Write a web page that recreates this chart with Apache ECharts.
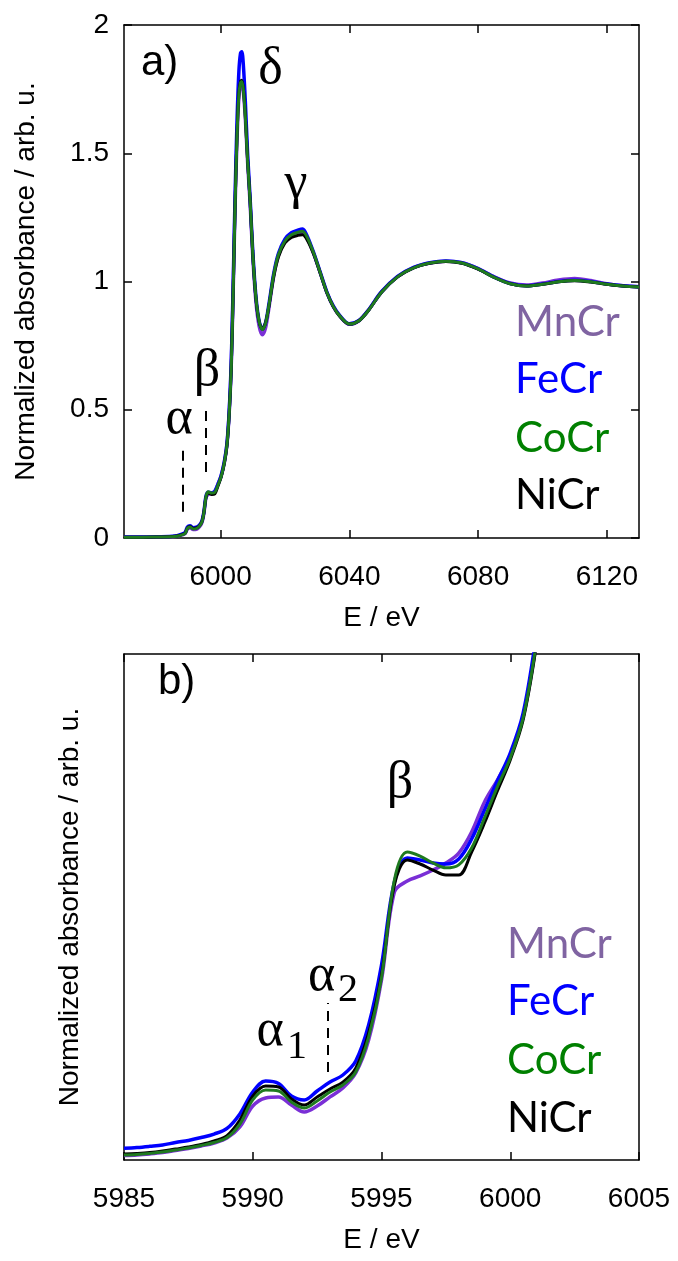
<!DOCTYPE html>
<html>
<head>
<meta charset="utf-8">
<script src="https://cdn.jsdelivr.net/npm/echarts@6/dist/echarts.min.js"></script>
<style>
  html, body { margin: 0; padding: 0; background: #fff; }
  #chart { width: 678px; height: 1261px; }
</style>
</head>
<body>
<div id="chart"></div>
<script>
// ---- Panel a: full Cr K-edge XANES (E / eV vs normalized absorbance) ----
const energyA = [5970, 5975, 5980, 5985, 5986.5, 5988, 5989, 5989.7, 5990.5, 5991.5,
  5992.5, 5993.4, 5994.2, 5994.8, 5995.5, 5996.2, 5997.2, 5998.2, 5999.2, 6000.2,
  6001.2, 6002, 6002.7, 6003.3, 6003.9, 6004.5, 6005.1, 6005.7, 6006.2, 6006.6,
  6007.1, 6007.7, 6008.4, 6009.2, 6010, 6011, 6012, 6013, 6014, 6015,
  6016.5, 6018, 6020, 6022, 6024, 6025.5, 6027, 6029, 6031, 6033,
  6035, 6037, 6040, 6043, 6046, 6050, 6055, 6060, 6065, 6070,
  6075, 6080, 6085, 6090, 6095, 6100, 6105, 6110, 6115, 6120, 6125, 6130];

const mnCrA = [0.003, 0.003, 0.004, 0.005, 0.007, 0.012, 0.017, 0.035, 0.040, 0.033,
  0.034, 0.043, 0.060, 0.094, 0.158, 0.170, 0.172, 0.180, 0.210, 0.242,
  0.296, 0.366, 0.492, 0.662, 0.950, 1.285, 1.550, 1.720, 1.765, 1.770,
  1.738, 1.635, 1.465, 1.300, 1.100, 0.920, 0.825, 0.792, 0.820, 0.895,
  1.020, 1.102, 1.158, 1.182, 1.190, 1.192, 1.166, 1.106, 1.032, 0.958,
  0.903, 0.866, 0.833, 0.847, 0.889, 0.959, 1.019, 1.054, 1.072, 1.079,
  1.073, 1.050, 1.018, 0.994, 0.986, 0.994, 1.006, 1.012, 1.004, 0.991, 0.983, 0.980];

const feCrA = [0.004, 0.004, 0.005, 0.007, 0.009, 0.015, 0.022, 0.043, 0.048, 0.040,
  0.042, 0.050, 0.066, 0.100, 0.165, 0.178, 0.176, 0.182, 0.210, 0.245,
  0.300, 0.370, 0.500, 0.680, 0.980, 1.330, 1.620, 1.820, 1.890, 1.896,
  1.840, 1.700, 1.500, 1.320, 1.120, 0.940, 0.845, 0.815, 0.840, 0.910,
  1.030, 1.110, 1.165, 1.190, 1.200, 1.205, 1.175, 1.110, 1.035, 0.960,
  0.905, 0.868, 0.835, 0.848, 0.890, 0.960, 1.020, 1.055, 1.073, 1.080,
  1.073, 1.050, 1.017, 0.992, 0.983, 0.990, 1.000, 1.005, 1.000, 0.990, 0.983, 0.980];

const coCrA = [0.003, 0.003, 0.004, 0.005, 0.007, 0.012, 0.018, 0.038, 0.043, 0.035,
  0.037, 0.046, 0.062, 0.096, 0.163, 0.180, 0.175, 0.178, 0.206, 0.240,
  0.295, 0.365, 0.490, 0.660, 0.950, 1.290, 1.560, 1.730, 1.775, 1.780,
  1.745, 1.640, 1.470, 1.310, 1.110, 0.935, 0.843, 0.812, 0.838, 0.905,
  1.025, 1.105, 1.158, 1.182, 1.192, 1.196, 1.170, 1.108, 1.033, 0.958,
  0.903, 0.866, 0.834, 0.847, 0.888, 0.958, 1.018, 1.053, 1.072, 1.079,
  1.072, 1.049, 1.016, 0.991, 0.982, 0.989, 0.999, 1.004, 0.999, 0.989, 0.982, 0.979];

const niCrA = [0.003, 0.003, 0.004, 0.006, 0.008, 0.013, 0.019, 0.039, 0.045, 0.037,
  0.039, 0.047, 0.063, 0.097, 0.160, 0.176, 0.170, 0.172, 0.203, 0.238,
  0.293, 0.362, 0.488, 0.658, 0.948, 1.292, 1.565, 1.735, 1.780, 1.785,
  1.750, 1.645, 1.472, 1.310, 1.108, 0.932, 0.842, 0.815, 0.840, 0.902,
  1.018, 1.096, 1.150, 1.172, 1.180, 1.182, 1.160, 1.104, 1.031, 0.957,
  0.902, 0.865, 0.834, 0.847, 0.888, 0.958, 1.018, 1.053, 1.071, 1.078,
  1.071, 1.048, 1.016, 0.991, 0.982, 0.989, 0.999, 1.003, 0.998, 0.989, 0.982, 0.979];

// ---- Panel b: pre-edge region, 5985-6005 eV ----
const energyB = [5985, 5985.5, 5986, 5986.5, 5987, 5987.5, 5988, 5988.5, 5989, 5989.5,
  5990, 5990.5, 5991, 5991.5, 5992, 5992.5, 5993, 5993.5, 5994, 5994.5,
  5995, 5995.5, 5996, 5996.5, 5997, 5997.5, 5998, 5998.5, 5999, 5999.5,
  6000, 6000.5, 6001];

const mnCrB = [0.0027, 0.0030, 0.0036, 0.0044, 0.0056, 0.0068, 0.0083, 0.0101, 0.0130, 0.0196,
  0.0320, 0.0368, 0.0374, 0.0326, 0.0285, 0.0320, 0.0374, 0.0427, 0.0516, 0.0711,
  0.1067, 0.1589, 0.1654, 0.1684, 0.1719, 0.1761, 0.1820, 0.1945, 0.2123, 0.2253,
  0.2395, 0.2627, 0.3053];

const feCrB = [0.0069, 0.0074, 0.0081, 0.0089, 0.0104, 0.0116, 0.0133, 0.0154, 0.0187, 0.0273,
  0.0403, 0.0468, 0.0454, 0.0379, 0.0356, 0.0409, 0.0462, 0.0504, 0.0587, 0.0800,
  0.1156, 0.1648, 0.1791, 0.1779, 0.1761, 0.1755, 0.1785, 0.1903, 0.2075, 0.2247,
  0.2413, 0.2650, 0.3101];

const coCrB = [0.0030, 0.0033, 0.0039, 0.0047, 0.0059, 0.0071, 0.0086, 0.0104, 0.0133, 0.0213,
  0.0356, 0.0415, 0.0409, 0.0344, 0.0308, 0.0350, 0.0403, 0.0445, 0.0522, 0.0729,
  0.1079, 0.1660, 0.1826, 0.1802, 0.1761, 0.1732, 0.1750, 0.1850, 0.2028, 0.2212,
  0.2383, 0.2621, 0.3053];

const niCrB = [0.0036, 0.0039, 0.0044, 0.0053, 0.0065, 0.0077, 0.0092, 0.0113, 0.0145, 0.0237,
  0.0379, 0.0439, 0.0433, 0.0362, 0.0326, 0.0374, 0.0421, 0.0462, 0.0545, 0.0753,
  0.1097, 0.1630, 0.1779, 0.1755, 0.1719, 0.1690, 0.1690, 0.1826, 0.1998, 0.2188,
  0.2372, 0.2609, 0.3036];

// tick labels
const ticksA = [6000, 6040, 6080, 6120];
const ticksB = [5985, 5990, 5995, 6000, 6005];
const yTicksA = [0, 0.5, 1, 1.5, 2];

// feature markers (energy, lower, upper) for the dashed guide lines
const guidesA = [[5988.2, 0.1025, 0.3626], [5995.47, 0.257, 0.518]];
const guidesB = [[5992.9, 0.0522, 0.0931]];

const names = ['MnCr', 'FeCr', 'CoCr', 'NiCr'];
const lineColors = { MnCr: '#7a2fd6', FeCr: '#0000ff', CoCr: '#1f7a1f', NiCr: '#000000' };
const textColors = { MnCr: '#8064a2', FeCr: '#0000ff', CoCr: '#008000', NiCr: '#000000' };

const SANS = '"Liberation Sans", Arial, Helvetica, sans-serif';
const SERIF = '"Liberation Serif", "Times New Roman", serif';
const LEG = 'Lato, "Open Sans", sans-serif';
const FS = 28;

function zip(xs, ys) { return xs.map((x, i) => [x, ys[i]]); }
const plain = v => String(v);

const chart = echarts.init(document.getElementById('chart'), null, { renderer: 'canvas' });

const axisLineStyle = { color: '#000', width: 1.5 };

function xAxisPair(grid, min, max, ticks, withInterval) {
  const base = {
    gridIndex: grid, type: 'value', min: min, max: max,
    axisLine: { show: true, onZero: false, lineStyle: axisLineStyle },
    splitLine: { show: false }
  };
  const tickCfg = withInterval
    ? { show: true, inside: true, length: 8, lineStyle: axisLineStyle }
    : { show: true, inside: true, length: 8, customValues: ticks, lineStyle: axisLineStyle };
  const bottom = Object.assign({}, base, {
    position: 'bottom',
    axisTick: tickCfg,
    axisLabel: Object.assign({ fontSize: FS, fontFamily: SANS, color: '#000', margin: 25, formatter: plain },
      withInterval ? {} : { customValues: ticks }),
    name: 'E / eV', nameLocation: 'middle', nameGap: 66,
    nameTextStyle: { fontSize: FS, fontFamily: SANS, color: '#000' }
  });
  if (withInterval) bottom.interval = 5;
  const top = Object.assign({}, base, {
    position: 'top',
    axisTick: tickCfg,
    axisLabel: { show: false }
  });
  if (withInterval) top.interval = 5;
  return [bottom, top];
}

const xAxes = [].concat(
  xAxisPair(0, 5970, 6130, ticksA, false),
  xAxisPair(1, 5985, 6005, ticksB, true)
);

const yTitle = 'Normalized absorbance / arb. u.';
const yAxes = [
  {
    gridIndex: 0, type: 'value', position: 'left', min: 0, max: 2, interval: 0.5,
    axisLine: { show: true, onZero: false, lineStyle: axisLineStyle },
    axisTick: { show: true, inside: true, length: 8, lineStyle: axisLineStyle },
    axisLabel: { fontSize: FS, fontFamily: SANS, color: '#000', margin: 15, formatter: plain },
    splitLine: { show: false },
    name: yTitle, nameLocation: 'middle', nameGap: 84, nameRotate: 90,
    nameTextStyle: { fontSize: FS, fontFamily: SANS, color: '#000' }
  },
  {
    gridIndex: 0, type: 'value', position: 'right', min: 0, max: 2, interval: 0.5,
    axisLine: { show: true, onZero: false, lineStyle: axisLineStyle },
    axisTick: { show: true, inside: true, length: 8, lineStyle: axisLineStyle },
    axisLabel: { show: false }, splitLine: { show: false }
  },
  {
    gridIndex: 1, type: 'value', position: 'left', min: 0, max: 0.3,
    axisLine: { show: true, onZero: false, lineStyle: axisLineStyle },
    axisTick: { show: false }, axisLabel: { show: false }, splitLine: { show: false },
    name: yTitle, nameLocation: 'middle', nameGap: 40, nameRotate: 90,
    nameTextStyle: { fontSize: FS, fontFamily: SANS, color: '#000' }
  },
  {
    gridIndex: 1, type: 'value', position: 'right', min: 0, max: 0.3,
    axisLine: { show: true, onZero: false, lineStyle: axisLineStyle },
    axisTick: { show: false }, axisLabel: { show: false }, splitLine: { show: false }
  }
];

const dataA = { MnCr: mnCrA, FeCr: feCrA, CoCr: coCrA, NiCr: niCrA };
const dataB = { MnCr: mnCrB, FeCr: feCrB, CoCr: coCrB, NiCr: niCrB };
const drawOrder = ['MnCr', 'FeCr', 'NiCr', 'CoCr'];
const widths = { MnCr: 3.5, FeCr: 3.5, NiCr: 3, CoCr: 3 };

function guideLines(list) {
  return {
    silent: true, symbol: 'none', label: { show: false },
    lineStyle: { color: '#000', width: 2, type: [10, 7] },
    data: list.map(g => [{ coord: [g[0], g[1]] }, { coord: [g[0], g[2]] }])
  };
}

const series = [];
drawOrder.forEach(n => {
  series.push({
    name: n + ' a', type: 'line', xAxisIndex: 0, yAxisIndex: 0,
    data: zip(energyA, dataA[n]), showSymbol: false, smooth: 0.3,
    lineStyle: { color: lineColors[n], width: widths[n] }, z: 3
  });
});
drawOrder.forEach(n => {
  series.push({
    name: n + ' b', type: 'line', xAxisIndex: 2, yAxisIndex: 2,
    data: zip(energyB, dataB[n]), showSymbol: false, smooth: 0.35,
    lineStyle: { color: lineColors[n], width: widths[n] }, z: 3
  });
});
// dashed guides for the pre-edge features
series[0].markLine = guideLines(guidesA);
series[4].markLine = guideLines(guidesB);

function txt(x, y, text, font, color, align) {
  return {
    type: 'text', x: x, y: y, z: 10, silent: true,
    style: { text: text, font: font, fill: color || '#000', align: align || 'left', verticalAlign: 'middle' }
  };
}

const legendA = [322.5, 379.2, 438.2, 495.5];
const legendB = [944.5, 1001.5, 1060.5, 1118.2];

const graphics = [
  txt(141, 63, 'a)', '42px ' + SANS),
  txt(270.5, 69, 'δ', '52px ' + SERIF, '#000', 'center'),
  txt(296, 184, 'γ', '52px ' + SERIF, '#000', 'center'),
  txt(179, 419.5, 'α', '52px ' + SERIF, '#000', 'center'),
  txt(207, 371.5, 'β', '52px ' + SERIF, '#000', 'center'),
  txt(158, 682, 'b)', '42px ' + SANS),
  txt(400, 783.5, 'β', '52px ' + SERIF, '#000', 'center'),
  txt(270, 1031.5, 'α', '52px ' + SERIF, '#000', 'center'),
  txt(287, 1047.6, '1', '40px ' + SERIF),
  txt(321.5, 976.5, 'α', '52px ' + SERIF, '#000', 'center'),
  txt(338, 990.6, '2', '40px ' + SERIF)
];
names.forEach((n, i) => {
  graphics.push(txt(515, legendA[i], n, '42px ' + LEG, textColors[n]));
  graphics.push(txt(507, legendB[i], n, '42px ' + LEG, textColors[n]));
});

chart.setOption({
  animation: false,
  backgroundColor: '#fff',
  grid: [
    { left: 124, right: 39, top: 25, height: 513 },
    { left: 124, right: 39, top: 654, height: 506 }
  ],
  xAxis: xAxes,
  yAxis: yAxes,
  series: series,
  graphic: graphics
});
</script>
</body>
</html>
